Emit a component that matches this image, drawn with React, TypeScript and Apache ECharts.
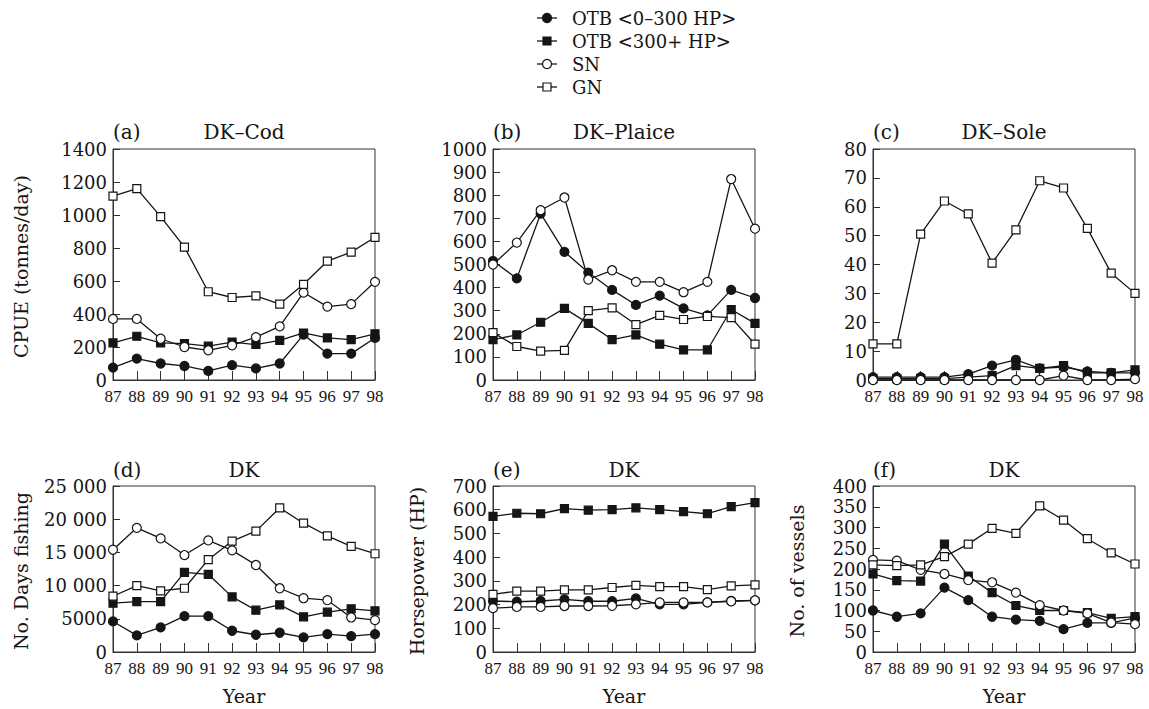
import React, { useEffect, useRef } from "react";
import * as echarts from "echarts";

const years = [87, 88, 89, 90, 91, 92, 93, 94, 95, 96, 97, 98];
const seriesNames = ["OTB <0–300 HP>", "OTB <300+ HP>", "SN", "GN"];

// (a) DK–Cod CPUE
const codOtbSmall = [75, 130, 100, 85, 55, 90, 70, 100, 275, 160, 160, 255];
const codOtbLarge = [225, 265, 225, 220, 205, 230, 215, 240, 285, 255, 245, 280];
const codSN = [370, 370, 250, 200, 180, 210, 260, 325, 530, 445, 460, 595];
const codGN = [1115, 1160, 990, 805, 535, 500, 510, 460, 580, 720, 775, 865];

// (b) DK–Plaice CPUE
const plaiceOtbSmall = [515, 440, 720, 555, 465, 390, 325, 365, 310, 280, 390, 355];
const plaiceOtbLarge = [175, 195, 250, 310, 245, 175, 195, 155, 130, 130, 305, 245];
const plaiceSN = [500, 595, 735, 790, 435, 475, 425, 425, 380, 425, 870, 655];
const plaiceGN = [205, 145, 125, 128, 300, 312, 240, 280, 262, 275, 270, 155];

// (c) DK–Sole CPUE
const soleOtbSmall = [1, 1, 1, 1, 2, 5, 7, 4, 4.5, 3, 2.5, 2.5];
const soleOtbLarge = [0.5, 0.5, 0.5, 0.5, 1, 1.5, 5, 4, 5, 2.5, 2.5, 3.5];
const soleSN = [0, 0, 0, 0, 0, 0, 0, 0, 1.5, 0, 0, 0.3];
const soleGN = [12.5, 12.5, 50.5, 62, 57.5, 40.5, 52, 69, 66.5, 52.5, 37, 30];

// (d) No. days fishing
const daysOtbSmall = [4600, 2500, 3700, 5400, 5400, 3200, 2600, 2900, 2200, 2700, 2400, 2700];
const daysOtbLarge = [7350, 7600, 7600, 12000, 11700, 8300, 6300, 7100, 5300, 6000, 6500, 6200];
const daysSN = [15400, 18700, 17100, 14600, 16800, 15300, 13100, 9600, 8100, 7800, 5200, 4800];
const daysGN = [8400, 10000, 9200, 9600, 13900, 16700, 18200, 21700, 19400, 17500, 15900, 14800];

// (e) Horsepower
const hpOtbSmall = [215, 212, 215, 222, 214, 214, 226, 201, 201, 209, 215, 218];
const hpOtbLarge = [572, 585, 583, 605, 598, 600, 608, 600, 592, 583, 613, 630];
const hpSN = [185, 190, 190, 194, 194, 195, 201, 209, 209, 209, 214, 218];
const hpGN = [243, 257, 257, 262, 262, 272, 281, 276, 276, 263, 279, 283];

// (f) No. of vessels
const vesOtbSmall = [100, 85, 93, 155, 125, 85, 78, 75, 55, 70, 70, 82];
const vesOtbLarge = [188, 172, 171, 260, 183, 143, 112, 100, 100, 95, 81, 85];
const vesSN = [222, 220, 198, 188, 173, 168, 143, 113, 100, 93, 71, 67];
const vesGN = [210, 208, 210, 230, 260, 298, 286, 352, 318, 273, 239, 212];

const panelLetters = ["(a)", "(b)", "(c)", "(d)", "(e)", "(f)"];
const panelTitles = ["DK–Cod", "DK–Plaice", "DK–Sole", "DK", "DK", "DK"];
const yAxisNames = ["CPUE (tonnes/day)", "", "", "No. Days fishing", "Horsepower (HP)", "No. of vessels"];
const yMax = [1400, 1000, 80, 25000, 700, 400];
const yStep = [200, 100, 10, 5000, 100, 50];
const daysTickLabels = ["0", "5000", "10 000", "15 000", "20 000", "25 000"];

const FONT = '"DejaVu Serif", serif';
const INK = "#151515";

export default function App() {
  const ref = useRef<HTMLDivElement>(null);
  useEffect(() => {
    if (!ref.current) return;
    const chart = echarts.init(ref.current, undefined, { renderer: "svg" });

    const panelData = [
      [codOtbSmall, codOtbLarge, codSN, codGN],
      [plaiceOtbSmall, plaiceOtbLarge, plaiceSN, plaiceGN],
      [soleOtbSmall, soleOtbLarge, soleSN, soleGN],
      [daysOtbSmall, daysOtbLarge, daysSN, daysGN],
      [hpOtbSmall, hpOtbLarge, hpSN, hpGN],
      [vesOtbSmall, vesOtbLarge, vesSN, vesGN],
    ];
    const lefts = [113, 493, 873];
    const W = 262;
    const tops = [149, 486];
    const heights = [231, 166];
    const titleY = [132, 470];

    const grids: any[] = [];
    const xAxes: any[] = [];
    const yAxes: any[] = [];
    const series: any[] = [];
    const graphics: any[] = [];

    const symbols = ["circle", "rect", "circle", "rect"];
    const filled = [true, true, false, false];

    for (let p = 0; p < 6; p++) {
      const row = Math.floor(p / 3);
      const col = p % 3;
      const left = lefts[col];
      grids.push({
        left,
        top: tops[row],
        width: W,
        height: heights[row],
        show: true,
        borderColor: "#333",
        borderWidth: 1,
        backgroundColor: "transparent",
        containLabel: false,
      });
      xAxes.push({
        type: "value",
        gridIndex: p,
        min: 87,
        max: 98,
        interval: 1,
        axisLine: { show: true, lineStyle: { color: "#333", width: 1 } },
        axisTick: { show: true, inside: true, length: 9, lineStyle: { color: "#333" } },
        splitLine: { show: false },
        axisLabel: {
          show: true,
          margin: 8,
          color: INK,
          fontFamily: '"Liberation Serif", serif',
          fontSize: 17,
          showMinLabel: true,
          showMaxLabel: true,
        },
      });
      yAxes.push({
        type: "value",
        gridIndex: p,
        min: 0,
        max: yMax[p],
        interval: yStep[p],
        axisLine: { show: true, lineStyle: { color: "#333", width: 1 } },
        axisTick: { show: true, inside: true, length: 7, lineStyle: { color: "#333" } },
        splitLine: { show: false },
        axisLabel: {
          show: true,
          margin: 6,
          color: INK,
          fontFamily: FONT,
          fontSize: 18,
          formatter:
            p === 3
              ? (v: number) => daysTickLabels[Math.round(v / 5000)]
              : (v: number) => String(v),
        },
      });
      for (let s = 0; s < 4; s++) {
        const vals = panelData[p][s];
        series.push({
          type: "line",
          name: seriesNames[s],
          xAxisIndex: p,
          yAxisIndex: p,
          data: years.map((y, k) => [y, vals[k]]),
          symbol: symbols[s],
          symbolSize: symbols[s] === "circle" ? 9 : 8,
          showSymbol: true,
          showAllSymbol: true,
          lineStyle: { color: INK, width: 1.3 },
          itemStyle: {
            color: filled[s] ? INK : "#fff",
            borderColor: INK,
            borderWidth: 1.2,
          },
          emphasis: { disabled: true },
          z: 2 + s,
        });
      }
      graphics.push({
        type: "text",
        x: left,
        y: titleY[row],
        style: {
          text: panelLetters[p],
          font: `20px ${FONT}`,
          fill: INK,
          textAlign: "left",
          textVerticalAlign: "middle",
        },
      });
      graphics.push({
        type: "text",
        x: left + W / 2,
        y: titleY[row],
        style: {
          text: panelTitles[p],
          font: `20px ${FONT}`,
          fill: INK,
          textAlign: "center",
          textVerticalAlign: "middle",
        },
      });
      if (yAxisNames[p]) {
        const nameX = col === 0 ? 21 : left - 76;
        graphics.push({
          type: "text",
          x: nameX,
          y: tops[row] + heights[row] / 2 + 2,
          rotation: Math.PI / 2,
          style: {
            text: yAxisNames[p],
            font: `19px ${FONT}`,
            fill: INK,
            textAlign: "center",
            textVerticalAlign: "middle",
          },
        });
      }
      if (row === 1) {
        graphics.push({
          type: "text",
          x: left + W / 2,
          y: 696,
          style: {
            text: "Year",
            font: `19px ${FONT}`,
            fill: INK,
            textAlign: "center",
            textVerticalAlign: "middle",
          },
        });
      }
    }

    // legend
    for (let s = 0; s < 4; s++) {
      const cy = 18 + 23 * s;
      graphics.push({
        type: "line",
        shape: { x1: 537, y1: cy, x2: 557, y2: cy },
        style: { stroke: INK, lineWidth: 1.3 },
      });
      if (symbols[s] === "circle") {
        graphics.push({
          type: "circle",
          shape: { cx: 547, cy, r: 4.5 },
          style: { fill: filled[s] ? INK : "#fff", stroke: INK, lineWidth: 1.2 },
        });
      } else {
        graphics.push({
          type: "rect",
          shape: { x: 543, y: cy - 4, width: 8, height: 8 },
          style: { fill: filled[s] ? INK : "#fff", stroke: INK, lineWidth: 1.2 },
        });
      }
      graphics.push({
        type: "text",
        x: 572,
        y: cy,
        style: {
          text: seriesNames[s],
          font: `18px ${FONT}`,
          fill: INK,
          textAlign: "left",
          textVerticalAlign: "middle",
        },
      });
    }

    chart.setOption({
      animation: false,
      backgroundColor: "#fff",
      grid: grids,
      xAxis: xAxes,
      yAxis: yAxes,
      series,
      graphic: { elements: graphics },
    });
    return () => chart.dispose();
  }, []);
  return (
    <div
      ref={ref}
      style={{ position: "absolute", left: 0, top: 0, width: 1149, height: 709 }}
    />
  );
}
